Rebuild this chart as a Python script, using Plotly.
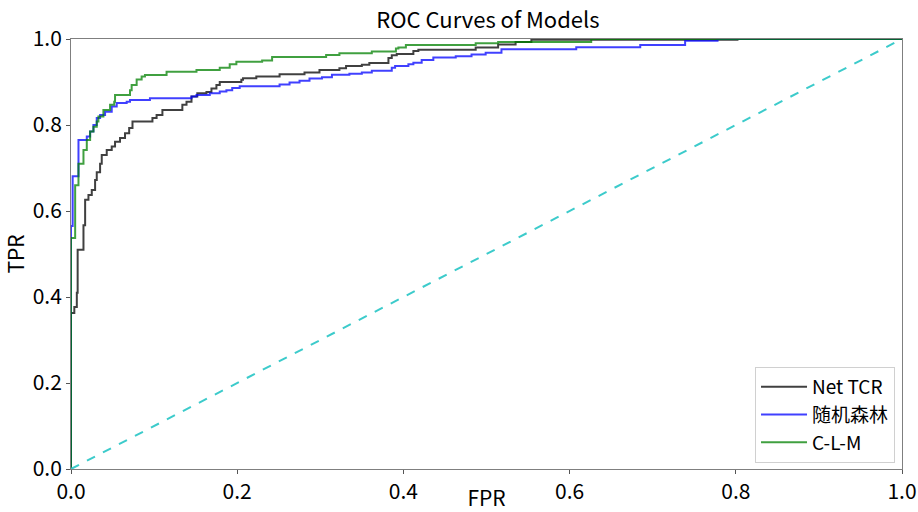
import plotly.graph_objects as go

# Net TCR (black)
net_fpr = [0, 0, 0.004, 0.007, 0.008, 0.015, 0.017, 0.021, 0.025, 0.029, 0.031, 0.035, 0.037,
           0.043, 0.049, 0.053, 0.059, 0.065, 0.070, 0.074, 0.098, 0.103, 0.110, 0.134, 0.139,
           0.145, 0.152, 0.163, 0.169, 0.175, 0.179, 0.205, 0.207, 0.223, 0.251, 0.281, 0.299,
           0.323, 0.331, 0.350, 0.359, 0.382, 0.386, 0.392, 0.412, 0.418, 0.487, 0.514, 0.535,
           0.554, 0.802, 1.0]
net_tpr = [0, 0.363, 0.377, 0.41, 0.51, 0.567, 0.626, 0.637, 0.649, 0.672, 0.69, 0.71, 0.73,
           0.742, 0.75, 0.761, 0.77, 0.781, 0.793, 0.808, 0.816, 0.823, 0.835, 0.847, 0.854,
           0.866, 0.874, 0.877, 0.885, 0.893, 0.9, 0.905, 0.909, 0.913, 0.918, 0.922, 0.928,
           0.932, 0.937, 0.94, 0.944, 0.956, 0.962, 0.965, 0.972, 0.975, 0.98, 0.987, 0.993,
           0.998, 1.0, 1.0]

# 随机森林 (blue)
rf_fpr = [0, 0, 0.002, 0.009, 0.019, 0.023, 0.027, 0.031, 0.035, 0.041, 0.049, 0.055, 0.067,
          0.071, 0.095, 0.145, 0.151, 0.167, 0.179, 0.187, 0.194, 0.203, 0.251, 0.263, 0.275,
          0.287, 0.302, 0.314, 0.335, 0.350, 0.362, 0.386, 0.390, 0.406, 0.412, 0.422, 0.436,
          0.463, 0.482, 0.499, 0.518, 0.608, 0.685, 0.739, 0.778, 1.0]
rf_tpr = [0, 0.565, 0.681, 0.765, 0.773, 0.785, 0.8, 0.816, 0.823, 0.831, 0.843, 0.851, 0.854,
          0.858, 0.862, 0.866, 0.87, 0.874, 0.878, 0.881, 0.886, 0.89, 0.894, 0.899, 0.903,
          0.908, 0.911, 0.917, 0.919, 0.922, 0.926, 0.933, 0.937, 0.941, 0.945, 0.951, 0.957,
          0.96, 0.964, 0.968, 0.976, 0.981, 0.986, 0.996, 1.0, 1.0]

# C-L-M (green)
clm_fpr = [0, 0, 0.005, 0.009, 0.015, 0.019, 0.023, 0.027, 0.031, 0.033, 0.039, 0.047, 0.052,
           0.053, 0.071, 0.073, 0.079, 0.085, 0.089, 0.115, 0.151, 0.179, 0.191, 0.199, 0.230,
           0.242, 0.307, 0.323, 0.362, 0.391, 0.394, 0.403, 0.487, 0.514, 0.626, 1.0]
clm_tpr = [0, 0.537, 0.66, 0.71, 0.742, 0.765, 0.785, 0.796, 0.808, 0.82, 0.835, 0.847, 0.854,
           0.87, 0.881, 0.893, 0.906, 0.913, 0.916, 0.924, 0.928, 0.933, 0.941, 0.947, 0.950,
           0.958, 0.963, 0.967, 0.971, 0.978, 0.98, 0.986, 0.99, 0.993, 1.0, 1.0]

diag = [0, 1]
ticks = [0.0, 0.2, 0.4, 0.6, 0.8, 1.0]
tick_text = ["0.0", "0.2", "0.4", "0.6", "0.8", "1.0"]

FONT = "'Noto Sans CJK SC', sans-serif"

fig = go.Figure()
fig.add_trace(go.Scatter(x=net_fpr, y=net_tpr, mode="lines", name="Net TCR",
                         line=dict(color="rgba(0,0,0,0.75)", width=2, shape="hv")))
fig.add_trace(go.Scatter(x=rf_fpr, y=rf_tpr, mode="lines", name="随机森林",
                         line=dict(color="rgba(0,0,255,0.75)", width=2, shape="hv")))
fig.add_trace(go.Scatter(x=clm_fpr, y=clm_tpr, mode="lines", name="C-L-M",
                         line=dict(color="rgba(0,128,0,0.75)", width=2, shape="hv")))
fig.add_trace(go.Scatter(x=diag, y=diag, mode="lines", showlegend=False,
                         line=dict(color="#3CCBCB", width=2, dash="dash")))

axis_common = dict(range=[0, 1], tickvals=ticks, ticktext=tick_text, showgrid=False,
                   zeroline=False, showline=True, mirror=True, linecolor="#7f7f7f",
                   linewidth=1, ticks="outside", ticklen=4, tickcolor="#555",
                   automargin=False, ticklabeloverflow="allow",
                   tickfont=dict(family=FONT, size=21, color="black"))

fig.update_layout(
    width=918, height=512,
    margin=dict(l=71, r=16, t=39, b=43),
    paper_bgcolor="white", plot_bgcolor="white",
    font=dict(family=FONT, color="black"),
    title=dict(text="ROC Curves of Models", x=0.5315, xanchor="center", y=0.96, yanchor="middle",
               font=dict(family=FONT, size=22, color="black")),
    xaxis=dict(**axis_common, title=dict(text="FPR", standoff=5,
                                         font=dict(family=FONT, size=21))),
    yaxis=dict(**axis_common, title=dict(text="TPR", standoff=6,
                                         font=dict(family=FONT, size=21))),
    legend=dict(x=0.9916, y=0.014, xanchor="right", yanchor="bottom",
                bgcolor="white", bordercolor="#d0d0d0", borderwidth=1, itemwidth=46,
                font=dict(family=FONT, size=19, color="black"), tracegroupgap=0),
)

fig.write_html("out.html", config={"displayModeBar": False},
               post_script="document.body.style.margin='0';document.body.style.overflow='hidden';")
